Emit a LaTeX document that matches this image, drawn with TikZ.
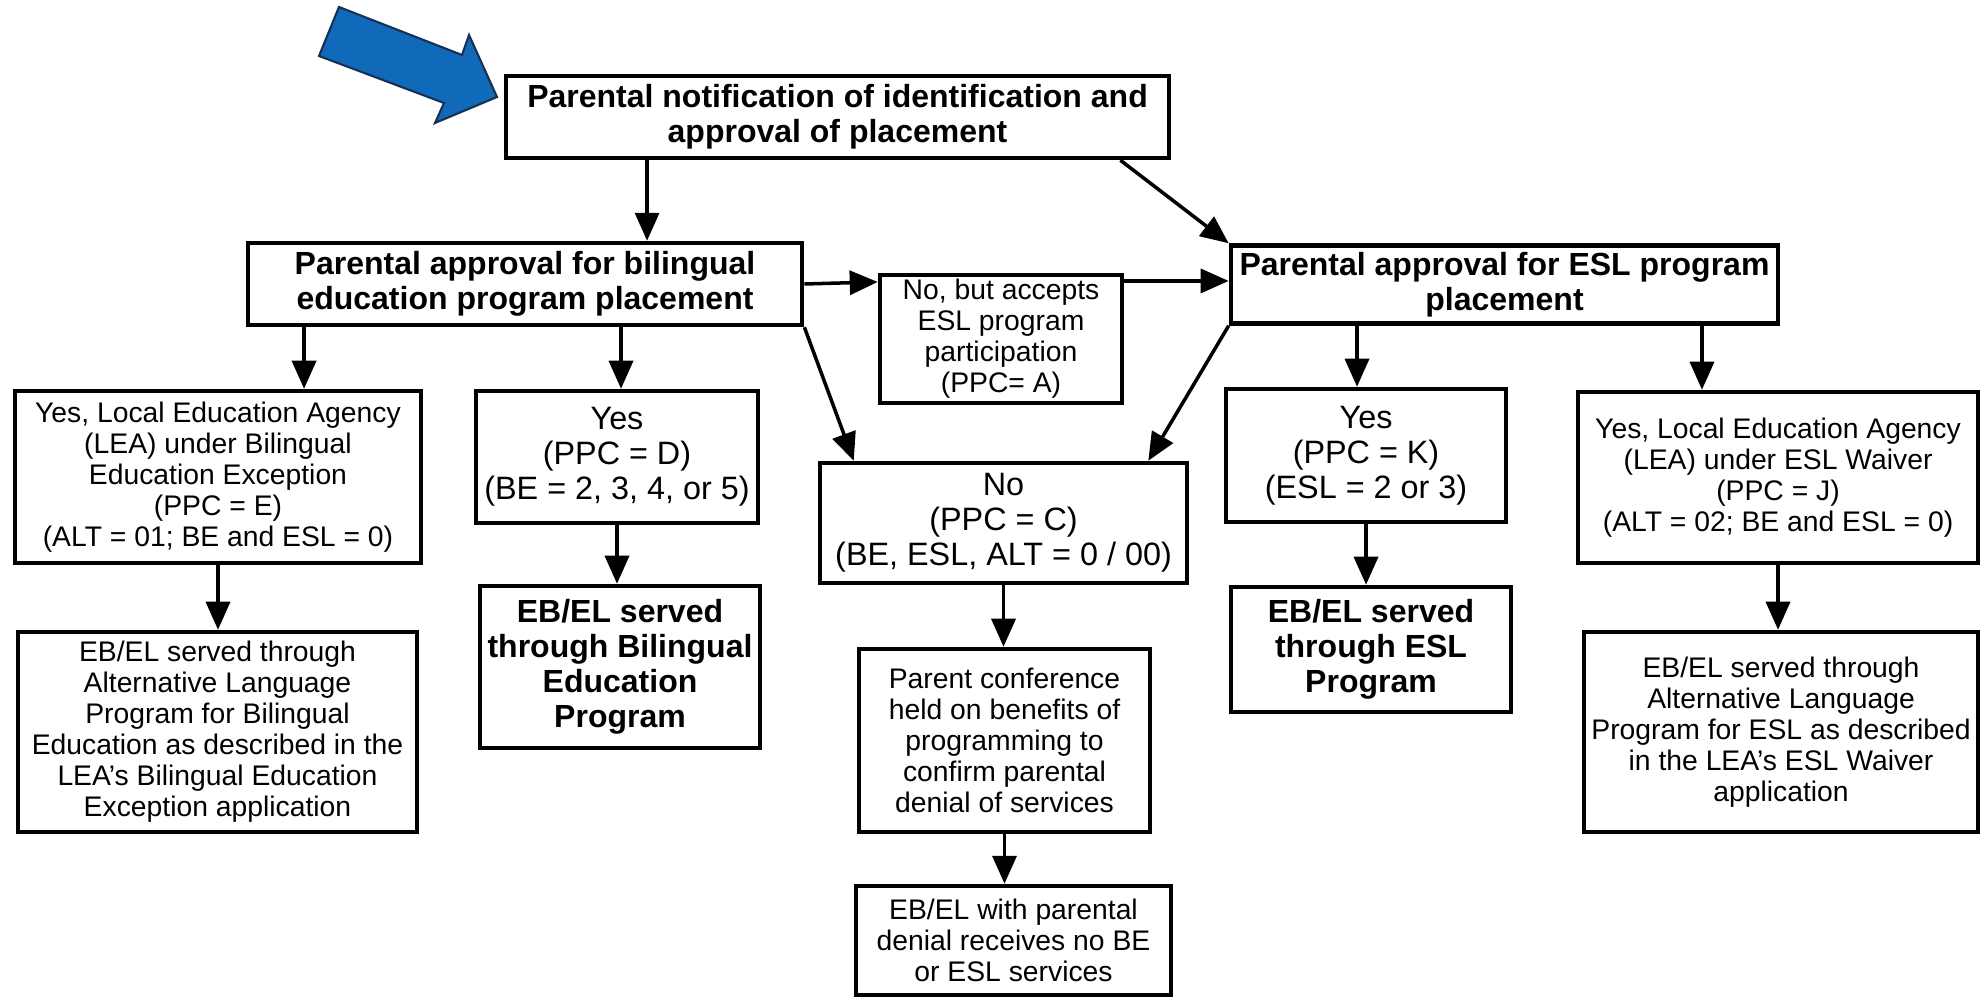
\documentclass[tikz,border=0pt]{standalone}
\usepackage{fontspec}
\setmainfont{Liberation Sans}
\usetikzlibrary{arrows.meta,calc}
\definecolor{pointerblue}{RGB}{16,106,185}
\definecolor{pointeredge}{RGB}{22,48,86}

\begin{document}
\begin{tikzpicture}[x=0.01cm,y=-0.01cm,
  plainbox/.style={draw,line width=1.25pt,inner sep=0pt,align=center,
    font=\fontsize{8.05}{8.8}\selectfont},
  bigbox/.style={plainbox,font=\fontsize{9.2}{10}\selectfont},
  headbox/.style={plainbox,font=\fontsize{9.1}{10}\selectfont\bfseries},
  flow/.style={-{Triangle[length=0.28cm,width=0.24cm]},line width=1pt}]
  \useasboundingbox (0,0) rectangle (1980,998);
  \fill[pointerblue,draw=pointeredge,line width=0.6pt] (339,7) -- (462,55) -- (469,35)
    -- (497,97) -- (435,123) -- (444,103) -- (319,56) -- cycle;
  \node[headbox,minimum width=6.63cm,minimum height=0.82cm] (notify) at (837.5,117)
    {Parental notification of identification and\\approval of placement};
  \node[headbox,minimum width=5.54cm,minimum height=0.82cm] (bil) at (525,284)
    {Parental approval for bilingual\\education program placement};
  \node[headbox,minimum width=5.47cm,minimum height=0.78cm] (esl) at (1504.5,284.5)
    {Parental approval for ESL program\\placement};
  \node[plainbox,minimum width=2.42cm,minimum height=1.28cm] (accept) at (1001,339)
    {No, but accepts\\ESL program\\participation\\(PPC= A)};
  \node[bigbox,minimum width=3.67cm,minimum height=1.20cm] (deny) at (1003.5,523)
    {No\\(PPC = C)\\(BE, ESL, ALT = 0 / 00)};
  \node[plainbox,minimum width=4.06cm,minimum height=1.72cm] (beexc) at (218,477)
    {Yes, Local Education Agency\\(LEA) under Bilingual\\Education Exception\\(PPC = E)\\(ALT = 01; BE and ESL = 0)};
  \node[bigbox,minimum width=2.82cm,minimum height=1.32cm] (beyes) at (617,457)
    {Yes\\(PPC = D)\\(BE = 2, 3, 4, or 5)};
  \node[bigbox,minimum width=2.80cm,minimum height=1.33cm] (eslyes) at (1366,455.5)
    {Yes\\(PPC = K)\\(ESL = 2 or 3)};
  \node[plainbox,minimum width=4.00cm,minimum height=1.71cm] (eslwaiv) at (1778,477.5)
    {Yes, Local Education Agency\\(LEA) under ESL Waiver\\(PPC = J)\\(ALT = 02; BE and ESL = 0)};
  \node[plainbox,minimum width=3.99cm,minimum height=2.00cm] (bealt) at (217.5,732)
    {EB/EL served through\\Alternative Language\\Program for Bilingual\\Education as described in the\\LEA’s Bilingual Education\\Exception application};
  \node[headbox,minimum width=2.80cm,minimum height=1.62cm] (beserved) at (620,667)
    {EB/EL served\\through Bilingual\\Education\\Program};
  \node[plainbox,minimum width=2.91cm,minimum height=1.83cm] (confer) at (1004.5,740.5)
    {Parent conference\\held on benefits of\\programming to\\confirm parental\\denial of services};
  \node[plainbox,minimum width=3.15cm,minimum height=1.09cm] (noserv) at (1013.5,940.5)
    {EB/EL with parental\\denial receives no BE\\or ESL services};
  \node[headbox,minimum width=2.80cm,minimum height=1.25cm] (eslserved) at (1371,649.5)
    {EB/EL served\\through ESL\\Program};
  \node[plainbox,minimum width=3.94cm,minimum height=2.00cm] (eslalt) at (1781,732)
    {EB/EL served through\\Alternative Language\\Program for ESL as described\\in the LEA’s ESL Waiver\\application};
  \draw[flow] ([xshift=1.22cm]bil.north |- notify.south) -- ([xshift=1.22cm]bil.north);
  \draw[flow] ([xshift=-0.51cm]notify.south east) -- (esl.north west);
  \draw[flow] (bil.east) -- ([yshift=0.57cm]accept.west);
  \draw[flow] ([yshift=0.58cm]accept.east) -- ([yshift=0.58cm]accept.east -| esl.west);
  \draw[flow] (bil.south east) -- ([xshift=0.36cm]deny.north west);
  \draw[flow] (esl.south west) -- ([xshift=-0.41cm]deny.north east);
  \draw[flow] ([xshift=0.86cm]beexc.north |- bil.south) -- ([xshift=0.86cm]beexc.north);
  \draw[flow] ([xshift=0.04cm]beyes.north |- bil.south) -- ([xshift=0.04cm]beyes.north);
  \draw[flow] ([xshift=-0.09cm]eslyes.north |- esl.south) -- ([xshift=-0.09cm]eslyes.north);
  \draw[flow] ([xshift=-0.76cm]eslwaiv.north |- esl.south) -- ([xshift=-0.76cm]eslwaiv.north);
  \foreach \from/\to in {beexc/bealt,beyes/beserved,deny/confer,confer/noserv,eslyes/eslserved,eslwaiv/eslalt}{
    \draw[flow] (\from.south) -- (\from.south |- \to.north);
  }
\end{tikzpicture}
\end{document}
